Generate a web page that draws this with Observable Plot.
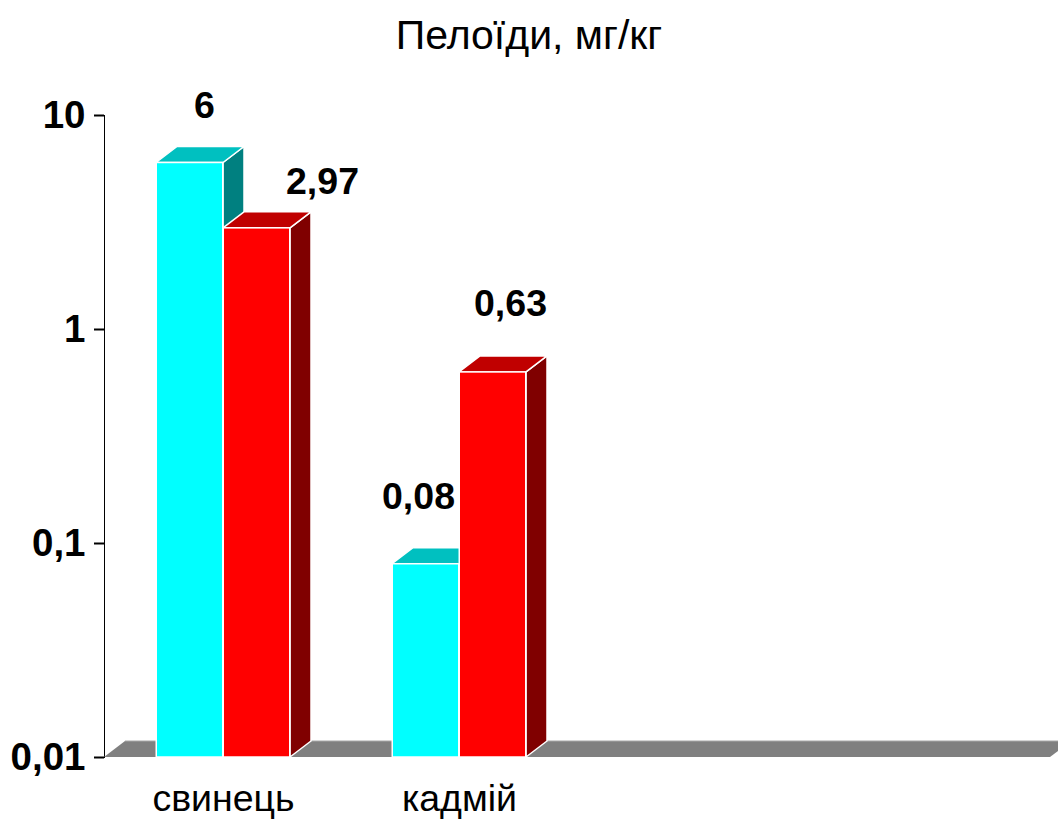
<!DOCTYPE html>
<html><head><meta charset="utf-8">
<script src="https://cdn.jsdelivr.net/npm/d3@7"></script>
<script src="https://cdn.jsdelivr.net/npm/@observablehq/plot@0.6"></script>
<style>
body{margin:0;background:#fff;font-family:"Liberation Sans",Arial,sans-serif;}
#title{width:1058px;height:70px;box-sizing:border-box;padding-top:15px;line-height:40px;font-size:41px;text-align:center;color:#000;}
</style></head><body>
<div id="title">Пелоїди, мг/кг</div>
<div id="chart"></div>
<script>
// ---- data ----
const categories = ["свинець", "кадмій"];
const emptySlots = ["slot3", "slot4"];          // empty category slots on the x axis
const series = ["ряд 1", "ряд 2"];
const valuesSeries1 = [6, 0.08];
const valuesSeries2 = [2.97, 0.63];
const yTicks = [0.01, 0.1, 1, 10];
const yTickLabels = ["0,01", "0,1", "1", "10"];

// ---- layout / style ----
const W = 1058, H = 751;
const mL = 104, mR = 8, mT = 45, mB = 64;
const depthX = 21, depthY = -16;
const barW = 67;
const bandW = (W - mL - mR) / (categories.length + emptySlots.length);
const colors = [
  {front: "#00FFFF", top: "#00C0C0", side: "#008080"},
  {front: "#FF0000", top: "#C00000", side: "#800000"}
];
const labelOffsets = {
  "свинець|ряд 1": {dx: -19, dy: -45},
  "свинець|ряд 2": {dx: 99, dy: -34},
  "кадмій|ряд 1": {dx: -41, dy: -55},
  "кадмій|ряд 2": {dx: 51, dy: -56}
};

const rows = categories.flatMap((c, i) => [
  {category: c, series: series[0], s: 0, value: valuesSeries1[i]},
  {category: c, series: series[1], s: 1, value: valuesSeries2[i]}
]);
const fmt = v => String(v).replace(".", ",");

// 3D floor, top and side faces drawn with Plot's scales
function depthFaces(index, scales, values, dimensions) {
  const {x, y} = scales;
  const bw = x.bandwidth();
  const y0 = y(0.01);
  const g = d3.create("svg:g");
  const fx1 = dimensions.marginLeft, fx2 = dimensions.width - dimensions.marginRight;
  g.append("path")
    .attr("d", `M${fx1},${y0}L${fx2},${y0}L${fx2 + depthX},${y0 + depthY}L${fx1 + depthX},${y0 + depthY}Z`)
    .attr("fill", "#808080");
  g.append("line").attr("x1", fx1 + depthX).attr("x2", fx2 + depthX)
    .attr("y1", y0 + depthY).attr("y2", y0 + depthY).attr("stroke", "#a8a8a8").attr("stroke-width", 1);
  for (const r of rows) {
    const c = x(r.category) + bw / 2;
    const x1 = r.s === 0 ? c - barW : c;
    const x2 = x1 + barW;
    const yt = y(r.value);
    const col = colors[r.s];
    g.append("path")
      .attr("d", `M${x2},${y0}L${x2},${yt}L${x2 + depthX},${yt + depthY}L${x2 + depthX},${y0 + depthY}Z`)
      .attr("fill", col.side).attr("stroke", "#fff").attr("stroke-width", 1.5).attr("stroke-linejoin", "round");
    g.append("path")
      .attr("d", `M${x1},${yt}L${x2},${yt}L${x2 + depthX},${yt + depthY}L${x1 + depthX},${yt + depthY}Z`)
      .attr("fill", col.top).attr("stroke", "#fff").attr("stroke-width", 1.5).attr("stroke-linejoin", "round");
  }
  return g.node();
}

const marks = [
  depthFaces,
  Plot.barY(rows.filter(d => d.s === 0), {
    x: "category", y1: () => 0.01, y2: "value", fill: colors[0].front,
    stroke: "#fff", strokeWidth: 1.5, insetLeft: bandW / 2 - barW, insetRight: bandW / 2
  }),
  Plot.barY(rows.filter(d => d.s === 1), {
    x: "category", y1: () => 0.01, y2: "value", fill: colors[1].front,
    stroke: "#fff", strokeWidth: 1.5, insetLeft: bandW / 2, insetRight: bandW / 2 - barW
  }),
  ...rows.map(r => Plot.text([r], {
    x: "category", y: "value", text: d => fmt(d.value),
    dx: labelOffsets[r.category + "|" + r.series].dx,
    dy: labelOffsets[r.category + "|" + r.series].dy,
    fontSize: 37.5, fontWeight: "bold", lineAnchor: "bottom", fill: "#000"
  })),
  Plot.text(categories, {
    x: d => d, y: () => 0.01, text: d => d, dy: 53,
    fontSize: 37.5, lineAnchor: "bottom", fill: "#000"
  })
];

const chart = Plot.plot({
  width: W, height: H,
  marginLeft: mL, marginRight: mR, marginTop: mT, marginBottom: mB,
  style: {fontFamily: "'Liberation Sans', Arial, sans-serif", background: "#fff", overflow: "visible"},
  x: {type: "band", domain: [...categories, ...emptySlots], padding: 0, axis: null},
  y: {
    type: "log", domain: [0.01, 10], ticks: yTicks,
    tickFormat: d => yTickLabels[yTicks.indexOf(d)],
    tickSize: 10, tickPadding: 9, line: true, label: null
  },
  marks
});
document.getElementById("chart").appendChild(chart);
const svg = d3.select(chart);
svg.selectAll('[aria-label^="y-axis"] text')
  .style("font-size", "38.5px").style("font-weight", "bold").attr("fill", "#000");
svg.selectAll('[aria-label^="y-axis"] line, [aria-label^="y-axis"] path')
  .attr("stroke", "#000").attr("stroke-width", 2).attr("stroke-opacity", 1);
</script>
</body></html>
